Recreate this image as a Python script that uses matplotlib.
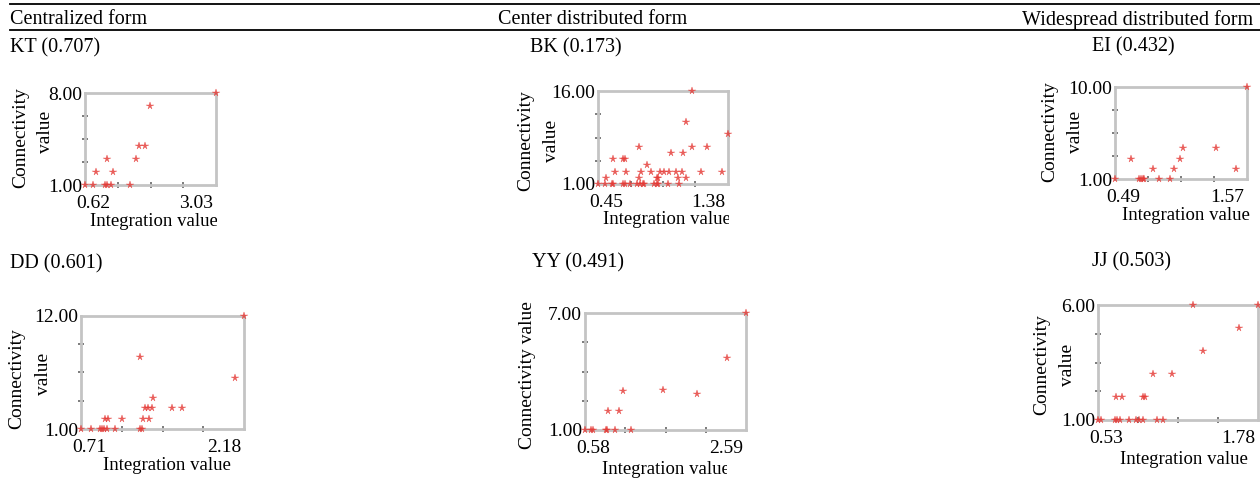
import numpy as np
import matplotlib
matplotlib.use("Agg")
import matplotlib.pyplot as plt
from matplotlib.ticker import FixedLocator
from matplotlib.transforms import Bbox, TransformedBbox, ScaledTranslation

plt.rcParams['font.family'] = ['Liberation Serif', 'DejaVu Serif']

# integration value (x) / connectivity value (y) for each sample
kt_x = [0.62, 0.76, 0.83, 0.99, 1.03, 1.10, 1.03, 1.14, 1.45, 1.55, 1.61, 1.73, 1.82, 3.03]
kt_y = [1, 1, 2, 1, 1, 1, 3, 2, 1, 3, 4, 4, 7, 8]

bk_x = [0.45, 0.50, 0.55, 0.56, 0.63, 0.64, 0.68, 0.73, 0.75, 0.77, 0.78, 0.85, 0.87, 0.88, 0.95, 1.03,
        0.51, 0.74, 0.87, 0.88, 1.02, 1.08,
        0.57, 0.65, 0.76, 0.83, 0.89, 0.92, 0.96, 1.01, 1.05, 1.19, 1.34,
        0.80, 0.56, 0.63, 0.64, 0.97, 1.06, 0.74, 1.12, 1.23,
        1.38, 1.08, 1.12]
bk_y = [1, 1, 1, 1, 1, 1, 1, 1, 1, 1, 1, 1, 1, 1, 1, 1,
        2, 2, 2, 2, 2, 2,
        3, 3, 3, 3, 3, 3, 3, 3, 3, 3, 3,
        4, 5, 5, 5, 6, 6, 7, 7, 7,
        9, 11, 16]

ei_x = [0.49, 0.69, 0.70, 0.72, 0.73, 0.85, 0.94, 0.80, 0.97, 1.48, 0.62, 1.02, 1.05, 1.32, 1.57]
ei_y = [1, 1, 1, 1, 1, 1, 1, 2, 2, 2, 3, 3, 4, 4, 10]

dd_x = [0.71, 0.80, 0.88, 0.90, 0.92, 0.94, 1.02, 1.24, 1.26,
        0.93, 0.95, 1.08, 1.27, 1.32,
        1.29, 1.31, 1.35, 1.53, 1.62,
        1.36, 2.10, 1.24, 2.18]
dd_y = [1, 1, 1, 1, 1, 1, 1, 1, 1,
        2, 2, 2, 2, 2,
        3, 3, 3, 3, 3,
        4, 6, 8, 12]

yy_x = [0.58, 0.65, 0.68, 0.84, 0.86, 0.96, 1.16, 0.87, 1.00, 1.05, 1.55, 1.98, 2.35, 2.59]
yy_y = [1, 1, 1, 1, 1, 1, 1, 2, 2, 3, 3.05, 2.85, 4.7, 7]

jj_x = [0.53, 0.55, 0.66, 0.68, 0.70, 0.77, 0.83, 0.85, 0.88, 0.99, 1.04,
        0.67, 0.72, 0.88, 0.90, 0.96, 1.11, 1.35, 1.63, 1.27, 1.78]
jj_y = [1, 1, 1, 1, 1, 1, 1, 1, 1, 1, 1,
        2, 2, 2, 2, 3, 3, 4, 5, 6, 6]

headers = ["Centralized form", "Center distributed form", "Widespread distributed form"]
titles = ["KT (0.707)", "BK (0.173)", "EI (0.432)", "DD (0.601)", "YY (0.491)", "JJ (0.503)"]
series = [(kt_x, kt_y), (bk_x, bk_y), (ei_x, ei_y), (dd_x, dd_y), (yy_x, yy_y), (jj_x, jj_y)]

# layout in pixels: axes box (l, t, r, b), title pos, ylabel line centres, xlabel start, clip edge
layout = [
    dict(box=(85, 93, 216, 185), title=(10, 48), ylab=[(21, 138), (45, 132)], xlab=(90, 221), clip=217),
    dict(box=(598, 91, 728, 184), title=(530, 48), ylab=[(526, 141), (551, 141)], xlab=(603, 220), clip=729),
    dict(box=(1115, 87, 1247, 179), title=(1092, 47), ylab=[(1050, 132), (1075, 132)], xlab=(1122, 215), clip=None),
    dict(box=(81, 316, 244, 429), title=(10, 264), ylab=[(17, 379), (44, 374)], xlab=(103, 466), clip=None),
    dict(box=(585, 313, 746, 430), title=(532, 263), ylab=[(527, 375)], xlab=(602, 470), clip=727),
    dict(box=(1098, 305, 1258, 420), title=(1092, 262), ylab=[(1042, 365), (1067, 365)], xlab=(1120, 459), clip=None),
]
header_pos = [(10, 20), (498, 20), (1022, 20)]

W, H = 1260, 478
fig = plt.figure(figsize=(12.6, 4.78), dpi=100)


def fx(px):
    return px / W


def fy(py):
    return 1 - py / H


# rules at the top of the table
fig.add_artist(plt.Line2D([fx(10), 1], [fy(3.5), fy(3.5)], color='black', lw=1.3))
fig.add_artist(plt.Line2D([fx(10), 1], [fy(30), fy(30)], color='black', lw=1.3))

for text, (px, py) in zip(headers, header_pos):
    fig.text(fx(px), fy(py), text, fontsize=14.5, ha='left', va='center')

for (x, y), name, lay in zip(series, titles, layout):
    l, t, r, b = lay['box']
    ax = fig.add_axes([fx(l), fy(b), (r - l) / W, (b - t) / H])
    ax.plot(x, y, linestyle='none', marker='*', markersize=5.5, color='#e53935',
            alpha=0.8, markeredgewidth=0.3, clip_on=False, zorder=5)

    xmin, xmax = min(x), max(x)
    ymin, ymax = min(y), max(y)
    ax.set_xlim(xmin, xmax)
    ax.set_ylim(ymin, ymax)

    for sp in ax.spines.values():
        sp.set_color('#c4c4c4')
        sp.set_linewidth(2)

    ax.set_xticks([xmin, xmax])
    ax.set_xticklabels([f'{xmin:.2f}', f'{xmax:.2f}'])
    ax.set_yticks([ymin, ymax])
    ax.set_yticklabels([f'{ymin:.2f}', f'{ymax:.2f}'])
    ax.xaxis.set_minor_locator(FixedLocator(np.linspace(xmin, xmax, 5)[1:-1]))
    ax.yaxis.set_minor_locator(FixedLocator(np.linspace(ymin, ymax, 5)[1:-1]))
    ax.tick_params(which='major', length=0, labelsize=14)
    ax.tick_params(axis='x', which='major', pad=7)
    ax.tick_params(axis='y', which='major', pad=2)
    ax.tick_params(which='minor', direction='inout', length=5, width=1.2, color='#666666')

    xl = ax.get_xticklabels()
    xl[0].set_transform(xl[0].get_transform() + ScaledTranslation(0.08, 0, fig.dpi_scale_trans))
    xl[1].set_horizontalalignment('right')
    xl[1].set_transform(xl[1].get_transform() + ScaledTranslation(-0.03, 0, fig.dpi_scale_trans))

    fig.text(fx(lay['title'][0]), fy(lay['title'][1]), name, fontsize=14.5, ha='left', va='center')

    # y label, one or two rotated lines
    words = ["Connectivity", "value"] if len(lay['ylab']) == 2 else ["Connectivity value"]
    for word, (px, py) in zip(words, lay['ylab']):
        fig.text(fx(px), fy(py), word, fontsize=14, rotation=90, ha='center', va='center')

    xlab = fig.text(fx(lay['xlab'][0]), fy(lay['xlab'][1]), "Integration value", fontsize=13.5,
                    ha='left', va='center')
    if lay['clip'] is not None:
        xlab.set_clip_box(TransformedBbox(Bbox([[0, 0], [fx(lay['clip']), 1]]), fig.transFigure))
        xlab.set_clip_on(True)

fig.savefig("out.png", dpi=100)
